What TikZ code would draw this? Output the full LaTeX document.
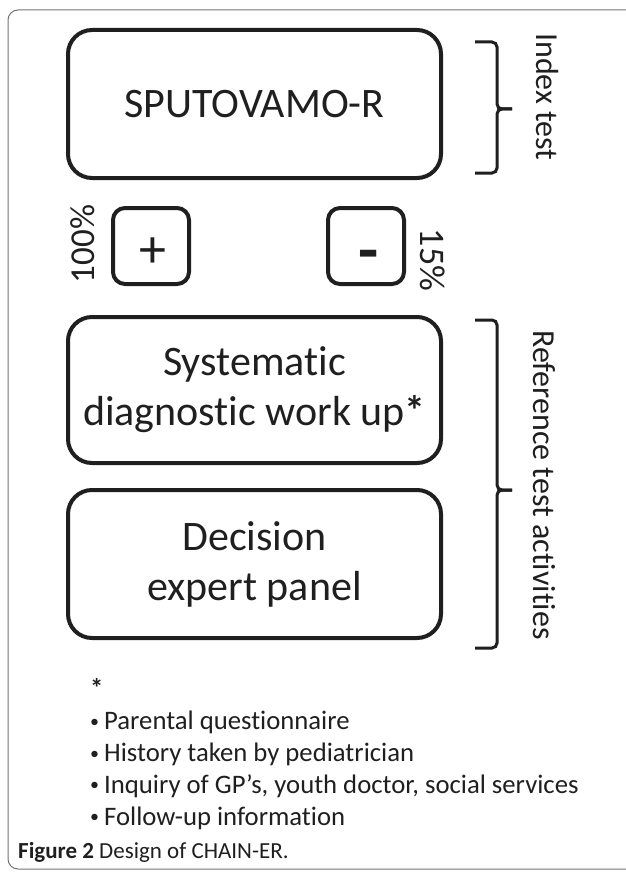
\documentclass[tikz,border=0pt]{standalone}
\usepackage{fontspec}
\setmainfont{Carlito}[Ligatures=NoCommon]
\begin{document}
\begin{tikzpicture}[x=1pt,y=-1pt,
  bx/.style={draw=black!88,line width=4pt,rounded corners=24pt,inner sep=0pt},
  sbx/.style={draw=black!88,line width=4pt,rounded corners=12pt,inner sep=0pt},
  brc/.style={draw=black!88,line width=3pt,rounded corners=5pt},
  big/.style={font=\fontsize{42}{50}\selectfont,text=black!88,align=center},
  side/.style={font=\fontsize{32}{38}\selectfont,text=black!88},
  lst/.style={font=\fontsize{26.7}{31.8}\selectfont,text=black!88,align=left,anchor=base west,inner sep=0pt}]
\useasboundingbox (0,0) rectangle (625,872);
\draw[black!55,line width=1pt,rounded corners=10pt] (700,10) -- (8,10) -- (8,869) -- (700,869);
% boxes
\node[bx,minimum width=373pt,minimum height=148pt] (idx) at (254.5,104) {};
\node[big] (idxt) at (idx.center) {SPUTOVAMO-R};
\node[sbx,minimum width=76pt,minimum height=76pt] (pl) at (151,246) {};
\node[anchor=base,inner sep=0pt,text=black!88,font=\fontsize{54}{54}\selectfont] (plt) at (153,267) {+};
\node[sbx,minimum width=76pt,minimum height=76pt] (mn) at (366,246) {};
\node[anchor=base,inner sep=0pt,text=black!88,font=\fontsize{66}{66}\selectfont\bfseries] (mnt) at (369,272) {-};
\node[bx,minimum width=373pt,minimum height=146pt] (sys) at (254.5,390) {};
\node[big] (syst) at (sys.center) {Systematic\\diagnostic work up\textbf{*}};
\node[bx,minimum width=373pt,minimum height=148pt] (dec) at (254.5,564) {};
\node[big] (dect) at (dec.center) {Decision\\expert panel};
% percentages
\node[side,rotate=90,font=\fontsize{35}{40}\selectfont] (p100) at (83,244) {100\%};
\node[side,rotate=-90,font=\fontsize{36}{40}\selectfont] (p15) at (433,260) {15\%};
% braces
\coordinate (b1t) at (475,42); \coordinate (b1b) at (475,173);
\draw[brc] (b1t) -- (497,42) -- (497,109) -- (512,109);
\draw[brc] (512,109) -- (497,109) -- (497,173) -- (b1b);
\coordinate (b2t) at (475,320); \coordinate (b2b) at (475,648);
\draw[brc] (b2t) -- (497,320) -- (497,490) -- (512,490);
\draw[brc] (512,490) -- (497,490) -- (497,648) -- (b2b);
\node[side,rotate=-90] (lab1) at (547,97) {Index test};
\node[side,rotate=-90] (lab2) at (544,485) {Reference test activities};
% list
\newcommand{\smbul}{\makebox[14pt][l]{\raisebox{2.5pt}{\fontsize{18}{18}\selectfont•}}}
\node[lst] (star) at (90,697) {\textbf{*}};
\node[lst,anchor=north west] (items) at (90,711) {\smbul Parental questionnaire\\\smbul History taken by pediatrician\\\smbul Inquiry of GP’s, youth doctor, social services\\\smbul Follow-up information};
\node[anchor=base west,inner sep=0pt,font=\fontsize{23}{26}\selectfont,text=black!88] (cap) at (18,858) {\textbf{Figure 2} Design of CHAIN-ER.};
\end{tikzpicture}
\end{document}
